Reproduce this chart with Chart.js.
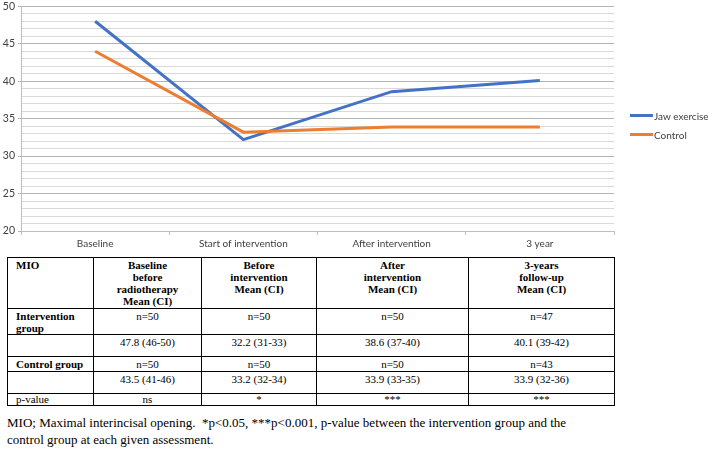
<!DOCTYPE html>
<html>
<head>
<meta charset="utf-8">
<script src="https://cdn.jsdelivr.net/npm/chart.js@4/dist/chart.umd.min.js"></script>
<style>
    html, body {
        margin: 0;
        padding: 0;
        background: #fff;
        width: 708px;
        height: 451px;
        overflow: hidden;
    }

    #chartBox {
        position: absolute;
        left: 0;
        top: 0;
        width: 708px;
        height: 253px;
        overflow: hidden;
    }

    #chartInner {
        position: absolute;
        left: 0;
        top: -3px;
        width: 708px;
        height: 256px;
    }

    #legend {
        position: absolute;
        left: 630px;
        top: 106px;
        font-family: Lato, "Liberation Sans", sans-serif;
        font-size: 10px;
        color: #404040;
    }

    .legend-item {
        height: 19px;
        display: flex;
        align-items: center;
        white-space: nowrap;
    }

    .legend-line {
        width: 23px;
        height: 3px;
        margin-right: 1px;
    }

    #mioTable {
        position: absolute;
        left: 7px;
        top: 257px;
        border-collapse: collapse;
        table-layout: fixed;
        font-family: "Liberation Serif", "Times New Roman", serif;
        font-size: 11px;
        line-height: 12px;
        color: #000;
    }

    #mioTable td {
        border: 1px solid #000;
        padding: 1px 8px 0 8px;
        vertical-align: top;
        text-align: center;
        overflow: hidden;
        box-sizing: border-box;
    }

    #mioTable td.rowhead {
        text-align: left;
    }

    #mioTable tr.head td {
        font-weight: bold;
    }

    #mioTable tr.last td {
        padding-top: 0;
        line-height: 11px;
    }

    #caption {
        position: absolute;
        left: 7px;
        top: 414px;
        font-family: "Liberation Serif", "Times New Roman", serif;
        font-size: 13px;
        line-height: 17px;
        color: #000;
    }
</style>
</head>
<body>

<div id="chartBox">
    <div id="chartInner">
        <canvas id="mioChart"></canvas>
    </div>
</div>
<div id="legend"></div>

<table id="mioTable"></table>

<div id="caption">
    MIO; Maximal interincisal opening.&nbsp; *p&lt;0.05, ***p&lt;0.001, p-value between the intervention group and the<br>
    control group at each given assessment.
</div>

<script>
// ---------------- DATA ----------------
const categories = ["Baseline", "Start of intervention", "After intervention", "3 year"];

const jawExercise = [48.0, 32.2, 38.6, 40.1];
const control = [44.0, 33.2, 33.9, 33.9];

const yMin = 20;
const yMax = 50;

// table
const tableHeaders = [
    "MIO",
    "Baseline<br>before<br>radiotherapy<br>Mean (CI)",
    "Before<br>intervention<br>Mean (CI)",
    "After<br>intervention<br>Mean (CI)",
    "3-years<br>follow-up<br>Mean (CI)"
];
const interventionN = ["n=50", "n=50", "n=50", "n=47"];
const interventionMean = ["47.8 (46-50)", "32.2 (31-33)", "38.6 (37-40)", "40.1 (39-42)"];
const controlN = ["n=50", "n=50", "n=50", "n=43"];
const controlMean = ["43.5 (41-46)", "33.2 (32-34)", "33.9 (33-35)", "33.9 (32-36)"];
const pValues = ["ns", "*", "***", "***"];

const colWidths = [86, 108, 115, 152, 146];

// ---------------- CHART ----------------
const BLUE = "#4472C4";
const ORANGE = "#ED7D31";
const TEXT = "#404040";

const ctx = document.getElementById("mioChart");

const chart = new Chart(ctx, {
    type: "line",

    data: {
        labels: categories,
        datasets: [
            {
                label: "Jaw exercise",
                data: jawExercise,
                borderColor: BLUE,
                backgroundColor: BLUE,
                borderWidth: 3,
                pointRadius: 0,
                tension: 0,
                order: 1
            },
            {
                label: "Control",
                data: control,
                borderColor: ORANGE,
                backgroundColor: ORANGE,
                borderWidth: 3,
                pointRadius: 0,
                tension: 0,
                order: 0
            }
        ]
    },

    options: {
        responsive: true,
        maintainAspectRatio: false,
        animation: false,
        layout: {
            padding: { left: 0, right: 94, top: 0, bottom: 0 }
        },
        plugins: {
            legend: { display: false },
            tooltip: { enabled: false }
        },
        scales: {
            x: {
                offset: true,
                grid: {
                    offset: true,
                    drawOnChartArea: false,
                    drawTicks: true,
                    tickLength: 4,
                    tickColor: "#bfbfbf"
                },
                border: { color: "#bfbfbf" },
                ticks: {
                    color: TEXT,
                    padding: 3,
                    maxRotation: 0,
                    font: { family: "Lato, 'Liberation Sans', sans-serif", size: 10 }
                }
            },
            y: {
                min: yMin,
                max: yMax,
                afterFit: (scale) => { scale.width = 21; },
                grid: {
                    tickLength: 3,
                    color: (c) => (c.tick && c.tick.value % 5 === 0) ? "#b3b3b3" : "#d9d9d9",
                    tickColor: (c) => (c.tick && c.tick.value % 5 === 0) ? "#b3b3b3" : "rgba(0,0,0,0)",
                    lineWidth: 1
                },
                border: { color: "#bfbfbf" },
                ticks: {
                    stepSize: 1,
                    autoSkip: false,
                    padding: 3,
                    color: TEXT,
                    font: { family: "Lato, 'Liberation Sans', sans-serif", size: 10.5 },
                    callback: (v) => (v % 5 === 0 ? v : "")
                }
            }
        }
    }
});

// ---------------- LEGEND ----------------
const legend = document.getElementById("legend");

chart.data.datasets.forEach((ds) => {
    legend.innerHTML += `
        <div class="legend-item">
            <div class="legend-line" style="background:${ds.borderColor}"></div>
            <span>${ds.label}</span>
        </div>`;
});

// ---------------- TABLE ----------------
const table = document.getElementById("mioTable");

let html = "<colgroup>";
colWidths.forEach((w) => { html += `<col style="width:${w}px">`; });
html += "</colgroup>";

function row(cls, height, first, cells) {
    let r = `<tr class="${cls}" style="height:${height}px"><td class="rowhead">${first}</td>`;
    cells.forEach((c) => { r += `<td>${c}</td>`; });
    return r + "</tr>";
}

html += row("head", 51, tableHeaders[0], tableHeaders.slice(1));
html += row("", 26, "<b>Intervention group</b>", interventionN);
html += row("", 22, "", interventionMean);
html += row("", 15, "<b>Control group</b>", controlN);
html += row("", 22, "", controlMean);
html += row("last", 12, "p-value", pValues);

table.innerHTML = html;
</script>
</body>
</html>
